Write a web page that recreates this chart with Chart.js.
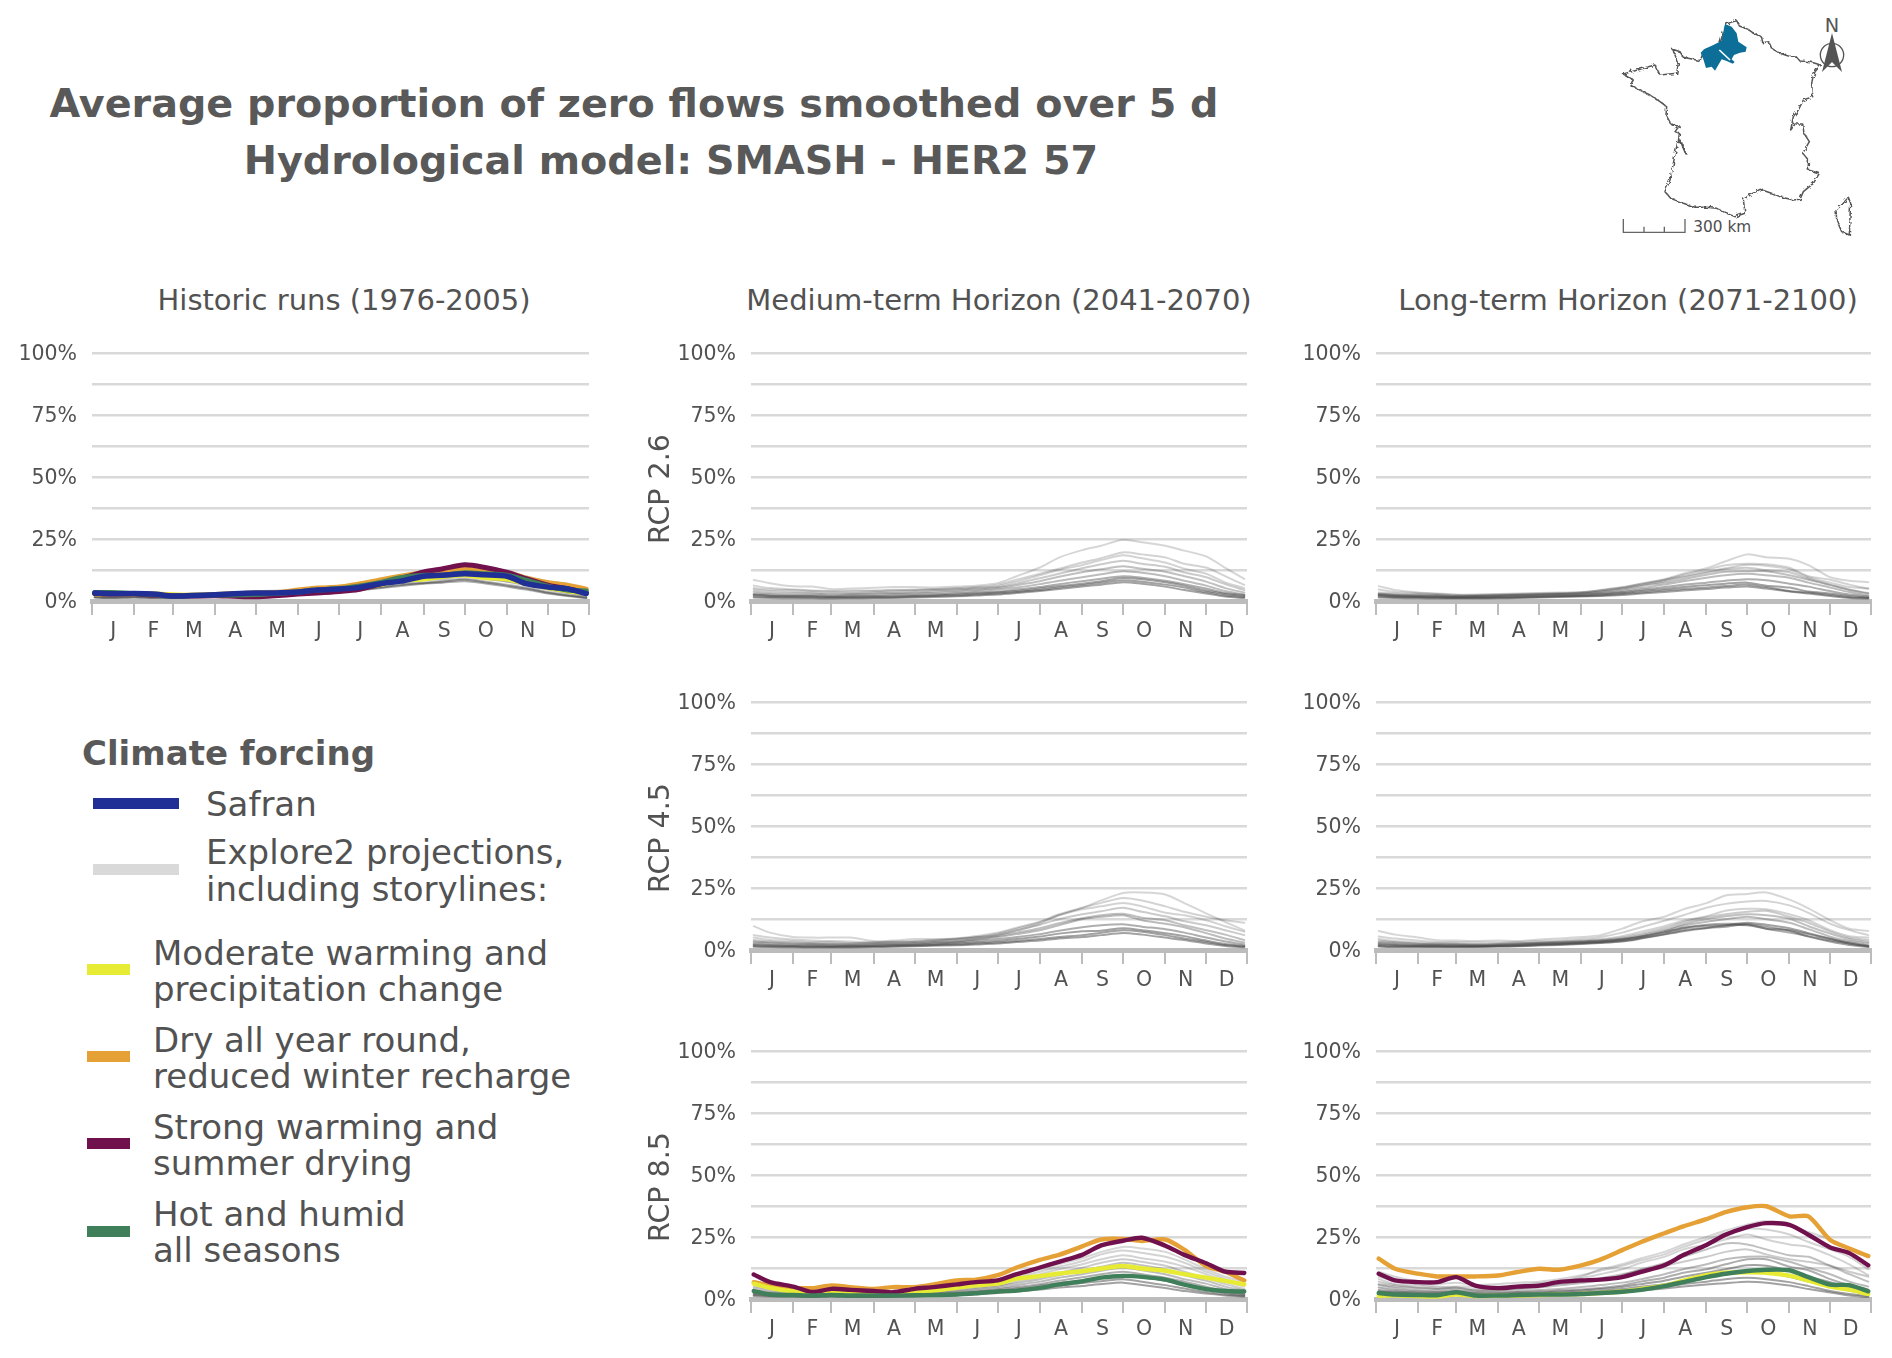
<!DOCTYPE html>
<html><head><meta charset="utf-8">
<script src="https://cdn.jsdelivr.net/npm/chart.js@4/dist/chart.umd.min.js"></script>
<style>
html,body{margin:0;padding:0;background:#fff}
body{width:1892px;height:1358px;position:relative;overflow:hidden;font-family:"DejaVu Sans",sans-serif}
.t{position:absolute;white-space:nowrap;transform:translateY(-50%);color:#525252}
.c{transform:translate(-50%,-50%)}
.r{transform:translate(-50%,-50%) rotate(-90deg);font-size:28.5px;color:#525252}
.s{position:absolute}
canvas{position:absolute;display:block}
</style></head><body>
<script>
const months=['J','F','M','A','M','J','J','A','S','O','N','D'];
const monthStarts=[1,32,60,91,121,152,182,213,244,274,305,335,365];
const monthMids=[16.5,46,75.5,106,136.5,167,197.5,228.5,259,289.5,320,350];
const days=[3,15,32,46,60,74,91,105,121,135,152,166,182,196,213,227,244,258,274,288,305,319,335,349,363];
const yTicksStep=12.5;

const histGray=[
[3.6,3.2,3.2,2.8,2.4,2.6,3,3.4,4,4.2,4.4,5.2,6,7,8.8,10.4,12,13,14.8,13.8,12.4,10,8,7,5],
[3,2.8,2.8,2.4,2,2.2,2.4,2.8,3.2,3.4,3.6,4.4,5,5.8,7.4,8.8,10.2,11,12,11.2,10,8.2,6.4,5,3.6],
[2.6,2.4,2.4,2.2,1.8,2,2.2,2.6,2.8,3,3.2,4,4.6,5.4,6.8,8,9.2,10,11,10,9,7.4,5.6,4.2,3],
[2.2,2,2.2,2,1.7,1.9,2.1,2.4,2.6,2.8,3.1,3.8,4.4,5.2,6.6,7.6,8.6,9.4,10.2,9.2,8,6.6,4.8,3.4,2.2],
[2,1.8,2,1.8,1.6,1.8,2,2.2,2.6,2.6,3,3.6,4.2,5,6.4,7.4,8.4,9,10,9,7.8,6.4,4.6,3.2,2],
[1.6,1.4,1.6,1.4,1.4,1.6,1.8,2,2.2,2.2,2.6,3.2,3.8,4.6,5.8,6.8,7.4,8.2,9,8,6.6,5.4,3.6,2.4,1.4],
[1.4,1.2,1.4,1.2,1.2,1.4,1.6,1.8,2,2,2.4,3,3.4,4.2,5.2,6,7,7.4,8,7.2,5.8,4.6,3,2,1.2],
[1.5,1.3,1.5,1.3,1.3,1.5,1.7,1.9,2.1,2.1,2.5,3.1,3.6,4.4,5.5,6.4,7.2,7.8,8.6,7.6,6.2,5,3.3,2.2,1.3]];
const histYellow=[2.8,2.6,2.6,3,2.6,2.4,2.6,2.8,3,3,3.6,4.4,4.6,5.4,6.6,8.2,8.8,9.8,10.4,9.4,8.8,7,5.2,4,3];
const histOrange=[3,2.8,3,2.6,2.2,2.3,2.6,3,3.2,3.4,4.4,5.2,5.6,6.8,8.6,10,11.4,12,12.8,12,11.4,9.2,7.4,6.4,4.8];
const histPurple=[3,2.8,2.8,2.4,2,2,2.1,1.9,1.7,2.1,2.8,3.2,3.8,4.6,7,9,11.7,13,14.6,13.6,11.5,9,6.4,5,3.4];
const histGreen=[3.4,3.4,3,2.6,2,2.2,2.4,2.4,2.6,3,3.6,4.4,5,6,7.6,9.4,10.4,10.4,11.4,11,10.4,8.4,6,4.4,4];
const histSafran=[3.2,2.9,3,2.8,2,2.2,2.5,2.9,3.2,3.2,3.6,4.4,4.8,5.4,7,8,10,10.4,11,10.6,10,7,5.6,5,3];

const rcp26MidGray=[
[8.5,7.2,5.9,5.8,4.8,5,5.3,5.6,5.6,5.4,5.8,6.2,7.2,10,13.5,17.5,20.5,22.3,24.7,23.7,22.3,20.3,18,13.4,8.9],
[6.2,5.2,4.6,4.2,4,4.2,4.2,4.5,4.6,4.8,5.2,5.6,6.6,8.6,11,13,15.5,17.3,19.6,18.8,17.6,15,13.5,10,6.5],
[5.2,4.6,4.4,4,3.8,3.8,4,4.2,4.4,4.6,5,5.4,6,7.8,10.4,12.5,14.5,16.5,18.4,17.2,15.5,13,11,7.5,5.2],
[4.6,4,3.6,3.4,3.2,3.2,3.5,3.8,4,4.4,4.6,5,5.6,7,9.2,11,13.2,14.8,16.2,15,13.8,11.5,9.6,6.8,4.4],
[3.8,3.2,3,3,2.6,2.8,3,3.2,3.4,3.8,4.2,4.6,5.2,6.4,8,9.8,11.6,12.8,14,13,11.8,10,7.8,5.2,3.4],
[3,2.6,2.4,2.4,2.2,2.4,2.6,2.8,3,3.2,3.6,4,4.6,5.4,6.8,8.2,9.6,10.8,12,11.4,10,8.2,6.2,4,2.6],
[2.6,2.2,2,2,1.8,2,2,2.2,2.4,2.6,3,3.4,3.8,4.6,5.6,6.8,8,9,10,9.4,8.2,6.8,5,3.2,2.4],
[2.4,2,1.8,1.8,1.6,1.6,1.8,1.8,2,2.2,2.6,3,3.4,4,5,6,7,8,9.3,8.8,7.6,6.2,4.2,2.8,2],
[1.8,1.6,1.5,1.4,1.3,1.3,1.4,1.5,1.7,2,2.2,2.6,3,3.6,4.4,5.4,6.4,7.4,8.4,7.8,6.6,5.4,3.6,2.2,1.6],
[1.4,1.2,1.1,1.1,1,1.1,1.2,1.2,1.4,1.6,1.9,2.2,2.6,3.2,4,4.8,5.8,6.6,7.6,7,5.8,4.4,3,1.8,1.2]];

const rcp26LongGray=[
[6,4.4,3.4,3,2.6,2.6,2.8,3,3.2,3.4,3.6,4.2,5.4,7,8.8,11,13.2,16,18.8,17.6,17,14.5,9.6,8.2,7.6],
[4.6,3.6,3.2,2.8,2.4,2.4,2.6,2.8,3,3.2,3.4,4.2,5.2,6.6,8.4,10.6,12.6,14.4,15,14.8,13.4,10,8.6,6.6,5],
[3.4,3,2.8,2.6,2.2,2.2,2.4,2.6,2.8,3,3.4,4.4,5.6,7,8.6,10,11.8,13.2,14.6,14.2,12.8,9.6,7.4,5.6,5],
[3,2.6,2.4,2.2,2,2,2.2,2.4,2.6,2.8,3.2,3.8,5,6.4,8,9.6,11.4,12.8,13.4,12.4,11.6,9,6.6,4.6,3.2],
[2.8,2.4,2.2,2.2,1.8,2,2.2,2.4,2.6,2.8,3,3.6,4.6,6,7.4,8.8,10.6,11.8,12,12,10.4,8.6,6.4,4.4,3],
[2.6,2.2,2,1.9,1.7,1.8,2,2.2,2.4,2.6,2.8,3.2,4,5.2,6.6,8,9.4,10.4,11,10.4,9.4,7.4,5.4,3.6,2.2],
[2.4,2,1.8,1.7,1.5,1.6,1.7,1.9,2.1,2.3,2.5,2.9,3.6,4.5,5.6,6.6,7.4,8.2,8.8,8.4,7,5.8,4,2.6,1.8],
[2.2,1.8,1.6,1.5,1.4,1.4,1.5,1.6,1.8,2,2.2,2.6,3.2,4,4.8,5.6,6.4,7,7.4,6.2,5.4,3.8,3,2,1.4],
[1.8,1.5,1.4,1.3,1.2,1.2,1.3,1.4,1.6,1.8,2,2.2,2.8,3.4,4.2,4.8,5.4,6,6.6,5.6,4,3.4,2.4,1.5,1.2],
[1.4,1.2,1.1,1,1,1,1.1,1.2,1.4,1.6,1.8,2,2.4,3,3.6,4.2,4.8,5.4,5.8,5,3.8,3,2,1.2,1]];

const rcp45MidGray=[
[9.6,7,5.2,5,5,5,3.6,3.8,4.4,4.4,4.6,5,6,7.8,10.6,14,17,20,23,23.2,22.4,18.9,14.8,11.3,7.9],
[6,5,4.2,3.8,3.6,3.4,3.2,3.4,3.6,4,4.6,5.6,7,9,11.4,14.4,17,19,21,20,17.6,15.4,13.4,12,11],
[5,4,3.6,3.2,3.2,2.8,3,3.2,3.4,3.8,4.4,5.2,6.6,8.6,11.2,14,16.4,17.6,19,17.6,15,14,12,9.6,7.4],
[4,3.4,3,2.8,2.6,2.6,2.8,3,3.2,3.6,4.2,5,6.2,8,10.2,12.4,14.4,15.6,17,15.4,13.6,11.6,10,8,6],
[3.4,3,2.6,2.4,2.4,2.2,2.4,2.6,2.8,3.2,3.6,4.4,5.6,7,8.8,10.8,12.8,14,14.6,13,12,10,8,6.2,4],
[3,2.6,2.2,2.2,2,2,2.2,2.4,2.6,3,3.4,4.2,5.2,6.4,8,10,12.4,13.4,14,12,10.6,9.2,6.8,4.6,3],
[2.4,2,1.8,1.8,1.6,1.7,1.8,2,2.2,2.6,3,3.6,4.4,5.2,6.4,7.8,9.2,10,10.4,9.4,8.4,7,5,3.4,2.2],
[2,1.8,1.6,1.5,1.4,1.5,1.6,1.8,2,2.2,2.6,3,3.6,4.4,5.4,6.6,7.6,7.8,8.8,8,6.8,5.6,3.8,2.4,1.6],
[1.6,1.4,1.3,1.2,1.2,1.2,1.4,1.5,1.7,2,2.2,2.6,3,3.6,4.4,5.2,6,7,8,7.4,6,4.6,3.2,2,1.4],
[1.3,1.2,1.1,1,1,1,1.2,1.3,1.5,1.7,1.9,2.2,2.6,3.2,3.8,4.6,5.2,6,6.9,6.2,5,4,2.6,1.6,1.1]];

const rcp45LongGray=[
[7.7,6.2,5,3.9,3.8,3.6,3.8,3.6,4.2,4.6,5.2,6,8.6,11.4,13.4,16.4,18.9,22,22.6,23.2,20.3,16.8,12,8.6,7.7],
[5.4,4.6,3.8,3.2,3.2,3,3,3.2,3.6,3.8,4.4,5.2,7,9.2,11.8,14,17,18.6,19.6,19.8,18,15,10.6,8,6],
[4.4,3.6,3,2.8,2.6,2.4,2.6,2.8,3,3.4,3.8,4.4,5.6,7.4,9.6,11.8,13.6,15.8,16.6,16.4,14.4,12,8,5.6,5],
[3.8,3.2,2.6,2.4,2.4,2.2,2.4,2.6,3,3.2,3.6,4,5,6.6,8.8,11.2,13.2,14.4,15.4,15.8,13.4,11,7.4,5,4],
[3.2,2.8,2.4,2.2,2.2,2,2.2,2.4,2.8,3,3.4,3.8,4.6,6,8,10.4,12.4,13.6,14.4,14,12.6,9.6,6.6,4.4,3.2],
[2.8,2.4,2,2,1.9,1.8,2,2.2,2.6,2.8,3.2,3.6,4.4,5.6,7.6,9.8,11.4,12.4,13.4,12.4,11,8.4,5.4,3.6,2.6],
[2.4,2,1.8,1.8,1.7,1.6,1.8,2,2.4,2.6,3,3.4,4.2,5.4,7.2,9,10.2,10.6,10.4,8.6,7,5.6,3.8,2.6,1.6],
[2,1.8,1.6,1.6,1.5,1.5,1.6,1.8,2.2,2.4,2.8,3.2,4,5.2,7,8.8,9.8,10,10,8.6,8,6.4,4.4,3,1.8],
[1.6,1.4,1.4,1.3,1.3,1.3,1.5,1.6,2,2.2,2.6,3,3.6,4.8,6.4,8,9,10,11,10.2,8.8,6.8,4.6,2.6,1.4],
[1.4,1.2,1.2,1.2,1.2,1.2,1.4,1.5,1.8,2,2.4,2.8,3.4,4.6,6.2,7.6,8.8,9.4,10.4,9.4,7.8,5.4,3.4,2,1.2]];

const rcp85MidGray=[
[5,4,3.4,3,3.4,3,2.8,3,3.4,4,5,6,7.4,9.6,12,14,16.4,19,21,20.4,19,16,12,9,7],
[4.6,3.6,3,2.6,3,2.6,2.4,2.8,3.2,3.6,4.4,5.4,6.8,8.8,11,13,15.2,18,19.6,18.6,17,14.6,11,8,6],
[4,3,2.6,2.2,2.6,2.2,2,2.4,2.8,3.2,4,5,6,8,10,12,14,16,17.6,16.4,15,13,10,7,5],
[3.6,2.8,2.4,2,2.2,2,1.8,2,2.4,2.8,3.6,4.4,5.4,7,8.8,10.6,12.6,14.6,16,15,13.4,11,8.4,6,4],
[3.2,2.4,2,1.8,2,1.8,1.6,1.8,2.2,2.6,3.2,4,5,6.4,8,9.6,11.4,13,14.6,13.6,12,9.6,7.4,5,3.4],
[2.8,2,1.8,1.6,1.8,1.6,1.4,1.6,2,2.2,2.8,3.4,4.4,5.6,7,8.6,10,11.4,12.6,11.6,10,8,6.2,4,2.6],
[2.4,1.8,1.6,1.4,1.6,1.4,1.2,1.4,1.6,2,2.4,3,3.8,4.8,6,7.4,8.8,10,11,10,8.6,7,5,3,2],
[2,1.6,1.4,1.2,1.4,1.2,1,1.2,1.4,1.8,2.2,2.6,3.4,4.2,5.4,6.4,7.6,8.6,9.6,8.8,7.4,5.6,4,2.4,1.6],
[1.6,1.2,1.2,1,1.2,1,1,1,1.2,1.4,1.8,2.2,2.8,3.6,4.4,5.4,6.4,7.2,8,7,5.6,4.2,2.8,1.8,1.2],
[1.2,1,0.9,0.8,1,0.8,0.8,0.9,1,1.2,1.5,1.9,2.4,3,3.8,4.6,5.2,6,6.6,5.6,4.4,3.2,2.2,1.4,1]];
const rcp85MidYellow=[6.2,4.5,3,2.6,2.7,2.4,2,2.4,3,3.4,4.5,5.5,6.2,8.2,9.2,10.3,11.2,12.3,13.3,12.3,11.4,10,8.6,7.3,5.9];
const rcp85MidOrange=[6.8,5.5,4.5,4.4,5.5,4.8,4.1,4.8,4.8,5.9,7.5,7.8,9.6,12.7,15.8,17.8,21.2,24,24.2,23.4,24,19.9,13.3,11,7.5];
const rcp85MidPurple=[9.9,6.8,5,2.8,4.1,3.7,3.2,2.7,4.1,4.8,5.9,6.8,7.5,10,12.7,15,17.8,21.6,23.5,24.7,21.5,17.8,14.4,11,10.5];
const rcp85MidGreen=[3.2,1.8,1.6,1.4,1.6,1.4,1.4,1.4,1.5,1.6,1.8,2.3,3,3.4,4.5,5.9,7.1,8.6,9.3,8.9,7.8,5.8,4,3.2,3];

const rcp85LongGray=[
[9,7,6,5,5,5,5,5.6,6.4,7,9,12,14,16.4,19,22,25,27.6,30,31.4,29.4,27,24,20,17],
[11,9,7,6,6.6,5.6,6,6.6,7,8,9.6,11.4,13.4,15.6,18,21,24,26.6,28.4,28,26,23,20,17,12],
[8,6,5.4,4.6,4.6,4,4.2,5,6,7,8.4,10,12,14.6,17,20,22,24,26,24,22,21,17.6,14,9.6],
[7,5.6,4.6,4,4,3.4,3.6,4.2,5,6,7,8.4,10,11.6,13.4,15,17,19,20,18,16,15,13.4,11,9],
[6,5,4.4,4,4.6,3.4,3.4,4,4.6,5.4,6.4,7.6,9.6,12,14.4,17,20,22.4,22,20,17.6,17,13.4,10,7],
[5.6,4.4,3.6,3.2,3.4,2.8,2.8,3.2,3.6,4,4.8,5.6,6.6,8,10,12,14,16,17,17,15,12.6,10,7,5],
[4.6,3.6,3,2.8,3,2.4,2.4,2.8,3,3.4,3.8,4.4,5.4,7,8.6,10.6,12,14,16,16,13,11.6,8,5.6,3.8],
[3.6,3,2.6,2.4,2.6,2,2,2.4,2.6,3,3.4,4,4.8,6,7.4,9,10.6,12,13.6,13.4,11.4,9,6.8,4.6,3],
[3,2.6,2.2,2,2.2,1.6,1.6,1.8,2,2.4,2.8,3.2,4,5,6,7.4,8.8,9.8,11,10.6,9,7,5,3.4,2],
[2.6,2.2,1.8,1.6,2,1.2,1.2,1.4,1.6,2,2.2,2.6,3.2,4,5,6,7,8,8.6,8,6.8,5.2,3.2,2,1.2],
[2,1.6,1.2,1.2,1.6,1,1,1,1.2,1.4,1.8,2.2,2.8,3.4,4.2,5,5.8,6.4,7,6.6,5.4,4,2.6,1.4,0.8]];
const rcp85LongYellow=[1.3,1.5,1.2,1,1.8,1.2,1.3,1.4,1.6,1.8,2,2.4,3,4,5.4,7.4,9.6,10.6,10.8,10.6,9.4,7.4,5,3.8,2];
const rcp85LongOrange=[16.3,12.2,10.2,9.1,9.1,9.1,9.5,10.9,12.2,11.8,13.6,15.9,19.7,23,26.5,29.3,32.2,35,37,37.4,33.3,33.3,23.8,20.4,17.3];
const rcp85LongPurple=[10.2,7.5,6.8,6.8,8.8,5.4,4.4,5,5.4,6.8,7.5,7.8,8.8,10.9,13.6,17.7,21.8,25.9,29,30.6,29.9,25.9,20.8,18.5,13.6];
const rcp85LongGreen=[2.4,1.8,1.6,1.5,2.7,1.4,1.4,1.6,1.8,1.8,2,2.4,2.9,3.7,5.2,6.8,8.8,10.2,11.3,11.8,11.6,8.8,5.8,5.6,3.1];

/* styles */
const INK='#525252',GRID='#d9d9d9',AXIS='#bcbcbc';
const COL={safran:'#1f2f96',yellow:'#e8eb34',orange:'#e5a135',purple:'#70114d',green:'#3f7f5a',legendGray:'#d9d9d9'};
const grayAlphas=[.22,.24,.24,.28,.34,.36,.44,.5,.5,.5,.5];
const colX=[[92,589],[751,1247],[1376,1871]];
const rowY=[[353,601],[702,950],[1051,1299]];

function grayDS(arr){return arr.map((d,i)=>({data:d.map((v,k)=>({x:days[k],y:v})),borderColor:`rgba(70,70,70,${grayAlphas[i]})`,borderWidth:2}));}
function lineDS(vals,color,w){return {data:vals.map((v,k)=>({x:days[k],y:v})),borderColor:color,borderWidth:w};}

function panel(cx,ry,datasets){
  const [L,R]=colX[cx],[T,B]=rowY[ry];
  const padL=92,padR=12,padT=12,padB=60;
  const cv=document.createElement('canvas');
  const w=R-L+padL+padR,h=B-T+padT+padB;
  cv.width=w;cv.height=h;cv.style.left=(L-padL)+'px';cv.style.top=(T-padT)+'px';cv.style.width=w+'px';cv.style.height=h+'px';
  document.body.appendChild(cv);
  const fontT={family:'"DejaVu Sans"',size:20.5};
  new Chart(cv,{type:'line',data:{datasets:datasets.slice().reverse()},options:{
    responsive:false,animation:false,devicePixelRatio:1,
    layout:{padding:{left:0,right:padR,top:padT,bottom:0}},
    parsing:false,normalized:true,
    elements:{point:{radius:0},line:{tension:.25,fill:false,borderCapStyle:'round',borderJoinStyle:'round'}},
    plugins:{legend:{display:false},title:{display:false},tooltip:{enabled:false}},
    scales:{
      y:{type:'linear',min:0,max:100,position:'left',afterFit:s=>{s.width=padL;s.paddingTop=0;s.paddingBottom=0;},
        afterBuildTicks:s=>{const t=[];for(let v=0;v<=100;v+=yTicksStep)t.push({value:v});s.ticks=t;},
        ticks:{autoSkip:false,padding:15,labelOffset:2,color:INK,font:fontT,callback:v=>v%25===0?v+'%':''},
        grid:{color:GRID,lineWidth:2.5,drawTicks:false},border:{display:false}},
      x:{type:'linear',position:'bottom',min:1,max:365,afterFit:s=>{s.height=6;},
        afterBuildTicks:s=>{s.ticks=monthStarts.map(v=>({value:v}));},
        ticks:{display:false},
        grid:{drawOnChartArea:false,drawTicks:true,tickLength:14,color:AXIS,lineWidth:2},
        border:{display:true,color:AXIS,width:5}},
      x2:{type:'linear',position:'bottom',min:1,max:365,afterFit:s=>{s.height=padB-6;},
        afterBuildTicks:s=>{s.ticks=monthMids.map(v=>({value:v}));},
        ticks:{autoSkip:false,maxRotation:0,padding:4,color:INK,font:fontT,callback:(v,i)=>months[i]},
        grid:{display:false},border:{display:false}}
    }},
  });
}

const W85=4.4;
panel(0,0,[...grayDS(histGray),lineDS(histYellow,COL.yellow,4.5),lineDS(histOrange,COL.orange,5),lineDS(histPurple,COL.purple,5),lineDS(histGreen,COL.green,5),lineDS(histSafran,COL.safran,5.5)]);
panel(1,0,grayDS(rcp26MidGray));
panel(2,0,grayDS(rcp26LongGray));
panel(1,1,grayDS(rcp45MidGray));
panel(2,1,grayDS(rcp45LongGray));
panel(1,2,[...grayDS(rcp85MidGray),lineDS(rcp85MidOrange,COL.orange,W85),lineDS(rcp85MidYellow,COL.yellow,W85),lineDS(rcp85MidPurple,COL.purple,W85),lineDS(rcp85MidGreen,COL.green,W85)]);
panel(2,2,[...grayDS(rcp85LongGray),lineDS(rcp85LongYellow,COL.yellow,W85),lineDS(rcp85LongOrange,COL.orange,W85),lineDS(rcp85LongPurple,COL.purple,W85),lineDS(rcp85LongGreen,COL.green,W85)]);

/* text */
function txt(s,x,y,size,opt={}){const d=document.createElement('div');d.className='t'+(opt.center?' c':'');d.textContent=s;
  d.style.left=x+'px';d.style.top=y+'px';d.style.fontSize=size+'px';if(opt.bold)d.style.fontWeight='bold';if(opt.color)d.style.color=opt.color;document.body.appendChild(d);}
function rot(s,x,y){const d=document.createElement('div');d.className='t r';d.textContent=s;d.style.left=x+'px';d.style.top=y+'px';document.body.appendChild(d);}
function sw(x,y,w,h,c){const d=document.createElement('div');d.className='s';d.style.cssText=`left:${x}px;top:${y-h/2}px;width:${w}px;height:${h}px;background:${c}`;document.body.appendChild(d);}

txt('Average proportion of zero flows smoothed over 5 d',634,103,39.7,{center:1,bold:1,color:'#595959'});
txt('Hydrological model: SMASH - HER2 57',671,160,39.7,{center:1,bold:1,color:'#595959'});
txt('Historic runs (1976-2005)',344,300,29,{center:1});
txt('Medium-term Horizon (2041-2070)',999,300,29,{center:1});
txt('Long-term Horizon (2071-2100)',1628,300,29,{center:1});
rot('RCP 2.6',659,489);rot('RCP 4.5',659,838);rot('RCP 8.5',659,1187);

txt('Climate forcing',82,753,34,{bold:1,color:'#595959'});
sw(93,803,86,11,COL.safran);txt('Safran',206,804,34);
sw(93,869,86,11,COL.legendGray);txt('Explore2 projections,',206,852,34);txt('including storylines:',206,889,34);
sw(87,969,43,11,COL.yellow);txt('Moderate warming and',153,953,34);txt('precipitation change',153,989,34);
sw(87,1056,43,11,COL.orange);txt('Dry all year round,',153,1040,34);txt('reduced winter recharge',153,1076,34);
sw(87,1143,43,11,COL.purple);txt('Strong warming and',153,1127,34);txt('summer drying',153,1163,34);
sw(87,1231,43,11,COL.green);txt('Hot and humid',153,1214,34);txt('all seasons',153,1250,34);

/* inset map (decorative) */
const map=`<svg xmlns="http://www.w3.org/2000/svg" style="position:absolute;left:1580px;top:0" width="312" height="250" viewBox="0 0 936 750">
<defs><filter id="jag" x="-5%" y="-5%" width="110%" height="110%"><feTurbulence type="fractalNoise" baseFrequency="0.09" numOctaves="2" seed="4"/><feDisplacementMap in="SourceGraphic" scale="14"/></filter></defs>
<g filter="url(#jag)">
<path fill="none" stroke="#555" stroke-width="4.5" stroke-linejoin="round" d="M440 72L458 65L470 62L478 78L505 88L520 100L540 108L545 112L548 128L566 125L575 145L600 160L625 168L650 172L660 183L690 185L722 195L705 215L698 235L695 250L698 290L670 300L655 330L640 350L632 390L645 372L668 372L672 400L688 425L668 460L685 480L685 510L718 520L700 550L670 575L660 598L640 600L600 590L570 578L540 568L510 585L490 598L495 640L465 650L440 640L410 625L380 622L345 622L310 610L272 595L255 575L270 540L280 490L292 430L300 420L318 465L310 435L295 425L298 400L285 395L298 378L275 375L258 345L260 320L240 305L210 285L175 268L150 255L160 240L130 222L165 212L205 200L225 195L240 225L290 220L295 190L278 148L300 155L310 172L360 182L372 155L420 130L432 90Z"/>
<path fill="none" stroke="#555" stroke-width="4.5" stroke-linejoin="round" d="M805 592L812 610L810 650L808 705L785 695L770 660L768 630L790 610Z"/>
</g>
<path fill="#0d6f97" d="M435 72L455 80L470 100L475 125L490 135L500 142L497 155L480 158L462 165L455 178L464 186L458 191L440 183L425 178L405 212L395 200L378 204L370 178L362 158L372 148L400 135L425 122L430 95Z"/>
<path fill="none" stroke="#fff" stroke-width="5" d="M418 150L450 180"/>
<path fill="none" stroke="#666" stroke-width="4" d="M130 657V697H315V657M192 680V697M253 680V697"/>
<text x="340" y="695" font-family="DejaVu Sans" font-size="46" fill="#4d4d4d">300 km</text>
<circle cx="756" cy="165" r="35" fill="none" stroke="#555" stroke-width="4"/>
<path fill="#555" d="M756 99L726 216L756 186L786 216Z"/>
<text x="756" y="96" text-anchor="middle" font-family="DejaVu Sans" font-size="58" fill="#555">N</text>
</svg>`;
document.body.insertAdjacentHTML('beforeend',map);
</script>
</body></html>
